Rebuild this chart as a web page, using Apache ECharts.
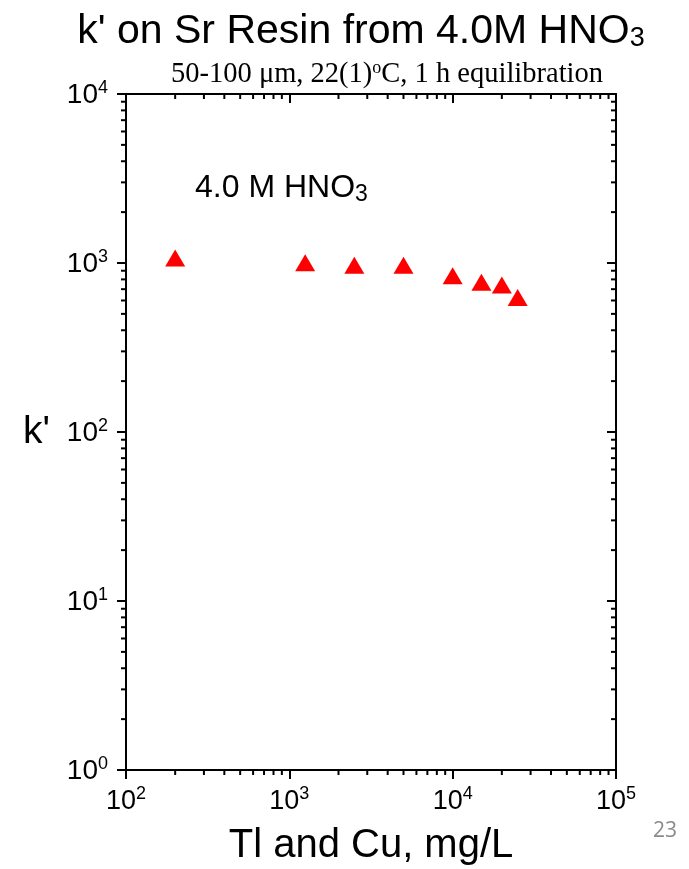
<!DOCTYPE html>
<html>
<head>
<meta charset="utf-8">
<script src="https://cdn.jsdelivr.net/npm/echarts@6/dist/echarts.min.js"></script>
<style>
html, body { margin: 0; padding: 0; background: #fff; }
#main { width: 689px; height: 869px; }
</style>
</head>
<body>
<div id="main"></div>
<script>
// concentration of Tl and Cu, mg/L
var conc = [200, 1250, 2500, 5000, 10000, 15000, 20000, 25000];
// k' values
var kPrime = [1070, 1005, 970, 970, 840, 770, 740, 625];
// minor tick positions (2..9 in each decade)
var xMinor = [200, 300, 400, 500, 600, 700, 800, 900,
    2000, 3000, 4000, 5000, 6000, 7000, 8000, 9000,
    20000, 30000, 40000, 50000, 60000, 70000, 80000, 90000];
var yMinor = [2, 3, 4, 5, 6, 7, 8, 9,
    20, 30, 40, 50, 60, 70, 80, 90,
    200, 300, 400, 500, 600, 700, 800, 900,
    2000, 3000, 4000, 5000, 6000, 7000, 8000, 9000];

var dom = document.getElementById("main");
var myChart = echarts.init(dom);

function powLabel(v) {
    var e = Math.round(Math.log(v) / Math.LN10);
    return '{b|10}{sup|' + e + '}';
}
function labelRich(size) {
    return {
        b: { fontSize: size, fontFamily: 'Liberation Sans', color: '#000', lineHeight: 30, verticalAlign: 'bottom' },
        sup: { fontSize: 18, fontFamily: 'Liberation Sans', color: '#000', lineHeight: 30, verticalAlign: 'top', padding: [0, 0, 10, 0] }
    };
}

var minorData = [];
xMinor.forEach(function (v) {
    minorData.push([v, 1, 'b']);
    minorData.push([v, 10000, 't']);
});
yMinor.forEach(function (v) {
    minorData.push([100, v, 'l']);
    minorData.push([100000, v, 'r']);
});

var option = {
    animation: false,
    backgroundColor: '#ffffff',
    title: [{
        text: "{m|k' on Sr Resin from 4.0M HNO}{s|3}",
        left: 356,
        top: 6,
        textAlign: 'center',
        textStyle: {
            rich: {
                m: { fontSize: 41, fontWeight: 'normal', fontFamily: 'Liberation Sans', color: '#000', lineHeight: 44, verticalAlign: 'top' },
                s: { fontSize: 27, fontWeight: 'normal', fontFamily: 'Liberation Sans', color: '#000', lineHeight: 44, verticalAlign: 'top', padding: [14, 0, 0, 0] }
            }
        }
    }, {
        text: '{m|50-100 μm, 22(1)}{o|o}{m|C, 1 h equilibration}',
        left: 382,
        top: 54,
        textAlign: 'center',
        textStyle: {
            rich: {
                m: { fontSize: 28.5, fontWeight: 'normal', fontFamily: 'Liberation Serif', color: '#000', lineHeight: 30, verticalAlign: 'bottom' },
                o: { fontSize: 18, fontWeight: 'normal', fontFamily: 'Liberation Serif', color: '#000', lineHeight: 30, verticalAlign: 'top', padding: [0, 0, 8, 0] }
            }
        }
    }, {
        text: '{m|4.0 M HNO}{s|3}',
        left: 190,
        top: 167,
        textStyle: {
            rich: {
                m: { fontSize: 32, fontWeight: 'normal', fontFamily: 'Liberation Sans', color: '#000', lineHeight: 36, verticalAlign: 'top' },
                s: { fontSize: 23, fontWeight: 'normal', fontFamily: 'Liberation Sans', color: '#000', lineHeight: 36, verticalAlign: 'top', padding: [11, 0, 0, 0] }
            }
        }
    }],
    graphic: [{
        type: 'text',
        left: 653,
        top: 821,
        style: { text: '23', fontSize: 21, fontFamily: 'Open Sans', fill: '#8a8a8a' }
    }],
    grid: { left: 126, right: 73, top: 94, bottom: 99, containLabel: false, outerBoundsMode: 'none' },
    xAxis: [{
        type: 'log',
        logBase: 10,
        min: 100,
        max: 100000,
        position: 'bottom',
        name: 'Tl and Cu, mg/L',
        nameLocation: 'middle',
        nameGap: 56,
        nameTextStyle: { fontSize: 40, fontFamily: 'Liberation Sans', color: '#000' },
        axisLine: { onZero: false, lineStyle: { color: '#000', width: 2 } },
        axisTick: { length: 9, lineStyle: { color: '#000', width: 2 } },
        axisLabel: { margin: 15, formatter: powLabel, rich: labelRich(27) },
        splitLine: { show: false }
    }, {
        type: 'log',
        logBase: 10,
        min: 100,
        max: 100000,
        position: 'top',
        axisLine: { onZero: false, lineStyle: { color: '#000', width: 2 } },
        axisTick: { inside: true, length: 9, lineStyle: { color: '#000', width: 2 } },
        axisLabel: { show: false },
        splitLine: { show: false }
    }],
    yAxis: [{
        type: 'log',
        logBase: 10,
        min: 1,
        max: 10000,
        position: 'left',
        name: "k'",
        nameLocation: 'middle',
        nameRotate: 0,
        nameGap: 76,
        nameTextStyle: { fontSize: 39, fontFamily: 'Liberation Sans', color: '#000' },
        axisLine: { onZero: false, lineStyle: { color: '#000', width: 2 } },
        axisTick: { length: 9, lineStyle: { color: '#000', width: 2 } },
        axisLabel: { margin: 18, formatter: powLabel, rich: labelRich(28) },
        splitLine: { show: false }
    }, {
        type: 'log',
        logBase: 10,
        min: 1,
        max: 10000,
        position: 'right',
        axisLine: { onZero: false, lineStyle: { color: '#000', width: 2 } },
        axisTick: { inside: true, length: 9, lineStyle: { color: '#000', width: 2 } },
        axisLabel: { show: false },
        splitLine: { show: false }
    }],
    series: [{
        type: 'custom',
        xAxisIndex: 0,
        yAxisIndex: 0,
        silent: true,
        clip: false,
        data: minorData,
        renderItem: function (params, api) {
            var p = api.coord([api.value(0), api.value(1)]);
            var side = minorData[params.dataIndex][2];
            var x2 = p[0], y2 = p[1];
            if (side === 'b') y2 = p[1] + 5;
            if (side === 't') y2 = p[1] + 5;
            if (side === 'l') x2 = p[0] - 5;
            if (side === 'r') x2 = p[0] - 5;
            return {
                type: 'line',
                shape: { x1: p[0], y1: p[1], x2: x2, y2: y2 },
                style: { stroke: '#000', lineWidth: 2 }
            };
        }
    }, {
        type: 'scatter',
        xAxisIndex: 0,
        yAxisIndex: 0,
        symbol: 'triangle',
        symbolSize: [20, 17],
        itemStyle: { color: '#ff0000', opacity: 1 },
        data: conc.map(function (c, i) { return [c, kPrime[i]]; })
    }]
};

if (option && typeof option === "object") {
    myChart.setOption(option, true);
}
</script>
</body>
</html>
